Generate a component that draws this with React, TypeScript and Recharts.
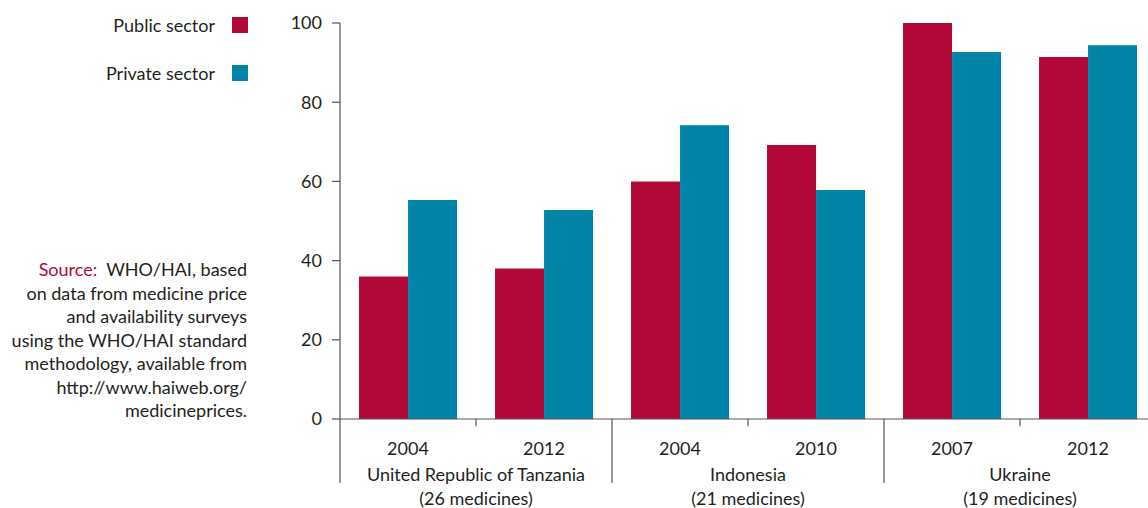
import React from "react";
import { BarChart, Bar, XAxis, YAxis } from "recharts";

const years = ["2004", "2012", "2004", "2010", "2007", "2012"];
const publicSector = [36, 38, 60, 69.2, 100, 91.4];
const privateSector = [55.3, 52.8, 74.2, 57.8, 92.7, 94.4];
const countries = ["United Republic of Tanzania", "Indonesia", "Ukraine"];
const medicines = ["(26 medicines)", "(21 medicines)", "(19 medicines)"];
const yTicks = [0, 20, 40, 60, 80, 100];
const sourceLines = [
  "on data from medicine price",
  "and availability surveys",
  "using the WHO/HAI standard",
  "methodology, available from",
  "http://www.haiweb.org/",
  "medicineprices.",
];

const PUBLIC = "#B10838";
const PRIVATE = "#0085A9";
const TEXT = "#231F20";
const AXIS = "#555";
const FONT = "Lato, 'Noto Sans', sans-serif";

const data = years.map((year, i) => ({
  year,
  pub: publicSector[i],
  priv: privateSector[i],
}));

// year label at the band centre, boundary lines at the band edges,
// country label at the edge between the two years of a group
function YearTick(props: any) {
  const { x, y, payload, index } = props;
  const half: number = payload.offset ?? 0;
  const left = x - half;
  const odd = index % 2 === 1;
  return (
    <g>
      <text x={x} y={y + 36} textAnchor="middle" fontSize={18} fill={TEXT} fontFamily={FONT}>
        {years[index]}
      </text>
      <line x1={left} y1={y} x2={left} y2={y + (odd ? 7 : 64)} stroke={AXIS} strokeWidth={1.2} />
      {index === years.length - 1 && (
        <line x1={x + half} y1={y} x2={x + half} y2={y + 64} stroke={AXIS} strokeWidth={1.2} />
      )}
      {odd && (
        <g>
          <text x={left} y={y + 62} textAnchor="middle" fontSize={18} fill={TEXT} fontFamily={FONT}>
            {countries[(index - 1) / 2]}
          </text>
          <text x={left} y={y + 86} textAnchor="middle" fontSize={18} fill={TEXT} fontFamily={FONT}>
            {medicines[(index - 1) / 2]}
          </text>
        </g>
      )}
    </g>
  );
}

export default function App() {
  return (
    <div
      style={{
        position: "absolute",
        left: 0,
        top: 0,
        width: 1148,
        height: 508,
        overflow: "hidden",
        background: "#fff",
        fontFamily: FONT,
        color: TEXT,
      }}
    >
      <BarChart
        width={1160}
        height={508}
        data={data}
        margin={{ top: 23, right: 4, bottom: 0, left: 0 }}
        barCategoryGap="14%"
        barGap={0}
      >
        <XAxis
          dataKey="year"
          interval={0}
          height={89}
          tickLine={false}
          tickSize={0}
          tickMargin={0}
          axisLine={{ stroke: AXIS, strokeWidth: 1.2 }}
          tick={<YearTick />}
        />
        <YAxis
          width={340}
          domain={[0, 100]}
          ticks={yTicks}
          tickSize={8}
          tickMargin={10}
          tick={{ fontSize: 18, fill: TEXT, fontFamily: FONT }}
          tickLine={{ stroke: AXIS, strokeWidth: 1.2 }}
          axisLine={{ stroke: AXIS, strokeWidth: 1.2 }}
        />
        <Bar dataKey="pub" fill={PUBLIC} isAnimationActive={false} />
        <Bar dataKey="priv" fill={PRIVATE} isAnimationActive={false} />
      </BarChart>

      <div style={{ position: "absolute", right: 1148 - 248, top: 14, display: "flex", alignItems: "center", fontSize: 18 }}>
        <span>Public sector</span>
        <span style={{ display: "inline-block", width: 16, height: 16, background: PUBLIC, marginLeft: 17 }} />
      </div>
      <div style={{ position: "absolute", right: 1148 - 248, top: 62, display: "flex", alignItems: "center", fontSize: 18 }}>
        <span>Private sector</span>
        <span style={{ display: "inline-block", width: 16, height: 16, background: PRIVATE, marginLeft: 17 }} />
      </div>

      <div
        style={{
          position: "absolute",
          right: 1148 - 247,
          top: 258,
          textAlign: "right",
          fontSize: 18,
          lineHeight: "23.5px",
          whiteSpace: "nowrap",
        }}
      >
        <div>
          <span style={{ color: PUBLIC }}>Source:</span>
          {"\u00a0\u00a0WHO/HAI, based"}
        </div>
        {sourceLines.map((l) => (
          <div key={l}>{l}</div>
        ))}
      </div>
    </div>
  );
}
